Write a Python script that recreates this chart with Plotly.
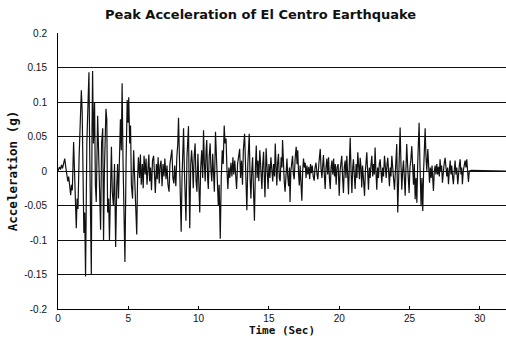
import plotly.graph_objects as go

# ---- data (time in s, acceleration in g) ----
time_a = [0.00, 0.10, 0.18, 0.25, 0.32, 0.40, 0.48, 0.55, 0.62, 0.70,
          0.76, 0.82, 0.90, 0.96, 1.02, 1.11, 1.18, 1.24, 1.30, 1.36,
          1.42, 1.50, 1.58, 1.66, 1.72, 1.78, 1.84, 1.90, 1.96]
accel_a = [0.000, 0.006, 0.002, 0.009, 0.004, 0.012, 0.018, 0.006, -0.006, -0.015,
           -0.008, -0.022, -0.035, -0.020, -0.028, 0.042, -0.020, -0.045, -0.083, -0.040,
           -0.055, 0.020, 0.070, 0.117, 0.085, -0.030, -0.090, -0.060, -0.153]

time_b = [2.05, 2.12, 2.20, 2.26, 2.31, 2.37, 2.42, 2.46, 2.52, 2.60,
          2.66, 2.72, 2.82, 2.88, 2.95, 3.03, 3.10, 3.18, 3.24, 3.30,
          3.41, 3.47, 3.53, 3.60, 3.66, 3.74, 3.80, 3.86, 3.94, 4.02,
          4.10, 4.18, 4.24, 4.30, 4.38, 4.44, 4.50, 4.56, 4.62, 4.68,
          4.76, 4.84, 4.92, 4.98, 5.03, 5.10, 5.16, 5.22, 5.30, 5.38,
          5.45, 5.52, 5.60, 5.66]
accel_b = [0.040, 0.090, 0.143, 0.020, -0.060, -0.150, 0.060, 0.145, 0.040, 0.100,
           -0.020, -0.045, 0.080, 0.030, -0.056, -0.085, 0.040, 0.062, -0.100, 0.000,
           0.090, 0.075, -0.060, -0.040, -0.100, 0.020, 0.035, -0.030, -0.050, 0.010,
           -0.110, -0.020, 0.010, -0.040, 0.060, 0.075, 0.030, 0.127, 0.020, -0.060,
           -0.132, 0.010, 0.103, 0.070, 0.107, 0.040, 0.066, -0.020, -0.040, 0.030,
           -0.010, -0.050, -0.092, -0.010]

time_c = [5.72, 5.80, 5.86, 5.92, 6.00, 6.06, 6.12, 6.20, 6.26, 6.33,
          6.40, 6.46, 6.52, 6.58, 6.65, 6.72, 6.80, 6.86, 6.92, 7.00,
          7.06, 7.12, 7.20, 7.26, 7.33, 7.40, 7.47, 7.54, 7.60, 7.68,
          7.75, 7.82, 7.90, 7.96, 8.03, 8.10, 8.17, 8.24, 8.30, 8.38,
          8.45, 8.52, 8.57, 8.64, 8.70, 8.76, 8.82, 8.88, 8.93, 8.99,
          9.05, 9.10, 9.17, 9.22, 9.28, 9.33, 9.37, 9.44, 9.50, 9.56,
          9.62, 9.68, 9.75, 9.82, 9.88, 9.95, 10.02, 10.08]
accel_c = [0.020, -0.010, 0.024, -0.020, 0.010, -0.025, 0.022, -0.005, 0.018, -0.020,
           0.010, 0.024, -0.015, 0.005, -0.028, 0.015, 0.022, -0.010, -0.032, 0.010,
           -0.012, 0.020, -0.018, 0.008, 0.015, -0.022, 0.010, -0.008, 0.018, -0.012,
           0.008, -0.020, -0.030, 0.010, 0.020, 0.031, -0.010, -0.018, 0.008, -0.022,
           0.020, 0.040, 0.077, 0.010, -0.040, -0.088, -0.010, 0.040, 0.062, 0.000,
           -0.050, -0.072, 0.020, 0.040, 0.065, -0.030, -0.083, 0.010, 0.030, 0.010,
           -0.025, 0.020, 0.040, -0.015, -0.030, 0.025, -0.020, -0.060]

time_d = [10.15, 10.22, 10.29, 10.35, 10.41, 10.47, 10.53, 10.58, 10.64, 10.69,
          10.75, 10.82, 10.88, 10.94, 11.00, 11.06, 11.12, 11.20, 11.26, 11.32,
          11.40, 11.46, 11.54, 11.61, 11.68, 11.75, 11.82, 11.88, 11.95, 12.02,
          12.08, 12.15, 12.22, 12.30, 12.37, 12.44, 12.50, 12.57, 12.63, 12.70,
          12.77, 12.85, 12.92, 12.98, 13.05, 13.12, 13.18, 13.27, 13.33, 13.38,
          13.43, 13.50, 13.55, 13.60, 13.66, 13.72, 13.78, 13.84, 13.90, 13.97,
          14.04, 14.10, 14.16, 14.22, 14.28, 14.35, 14.42, 14.50, 14.56, 14.62,
          14.68, 14.72, 14.80, 14.86, 14.94, 15.00]
accel_d = [0.005, 0.030, -0.010, 0.059, 0.010, -0.015, 0.030, 0.045, -0.010, -0.026,
           0.020, 0.040, 0.000, -0.015, 0.025, -0.005, -0.030, 0.057, 0.020, -0.010,
           -0.050, -0.020, -0.098, -0.010, 0.030, 0.010, 0.066, 0.040, 0.047, 0.000,
           -0.026, 0.005, -0.010, 0.012, -0.008, 0.020, -0.005, 0.015, -0.012, -0.026,
           0.010, 0.020, 0.032, -0.010, 0.015, -0.020, 0.030, 0.054, 0.000, -0.030,
           -0.057, 0.010, 0.030, 0.054, -0.010, -0.040, 0.000, 0.020, -0.025, -0.072,
           0.005, 0.037, -0.010, 0.015, -0.015, 0.030, 0.005, -0.026, 0.010, 0.028,
           -0.015, -0.038, 0.033, 0.000, -0.026, 0.010]

time_e = [15.07, 15.14, 15.20, 15.27, 15.33, 15.40, 15.45, 15.51, 15.56, 15.62,
          15.68, 15.74, 15.80, 15.87, 15.93, 15.97, 16.03, 16.09, 16.15, 16.22,
          16.28, 16.34, 16.40, 16.46, 16.50, 16.56, 16.62, 16.68, 16.74, 16.80,
          16.87, 16.94, 17.00, 17.05, 17.11, 17.16, 17.22, 17.28, 17.34, 17.40,
          17.46, 17.52, 17.58, 17.64, 17.70, 17.77, 17.84, 17.90, 17.96, 18.02,
          18.08, 18.15, 18.22, 18.28, 18.35, 18.42, 18.48, 18.55, 18.60, 18.65,
          18.71, 18.77, 18.83, 18.88, 18.94, 19.00, 19.06, 19.12, 19.18, 19.24,
          19.30, 19.36, 19.42, 19.48, 19.54, 19.60, 19.66, 19.72, 19.78, 19.84,
          19.92]
accel_e = [-0.010, 0.020, 0.005, -0.015, 0.010, -0.008, 0.040, 0.005, -0.021, 0.012,
           0.025, -0.010, -0.015, 0.020, 0.005, 0.045, 0.000, -0.015, -0.030, 0.010,
           0.018, -0.008, -0.022, 0.005, -0.045, 0.000, 0.015, 0.022, -0.005, -0.012,
           0.020, 0.035, 0.010, 0.030, -0.005, -0.021, 0.008, -0.010, -0.043, 0.000,
           0.018, 0.005, 0.012, -0.010, 0.008, -0.005, 0.006, -0.012, 0.010, -0.003,
           0.008, -0.008, -0.014, 0.005, 0.012, -0.005, -0.012, 0.010, 0.020, 0.032,
           0.002, -0.010, 0.010, 0.023, -0.005, -0.026, 0.005, 0.018, -0.005, 0.020,
           -0.010, -0.026, 0.005, 0.015, -0.005, 0.018, -0.008, 0.010, -0.020, 0.005,
           0.010]

time_f = [20.00, 20.06, 20.12, 20.18, 20.24, 20.30, 20.36, 20.42, 20.48, 20.54,
          20.60, 20.66, 20.72, 20.78, 20.84, 20.90, 20.96, 21.01, 21.07, 21.13,
          21.20, 21.26, 21.32, 21.38, 21.44, 21.49, 21.55, 21.60, 21.66, 21.72,
          21.80, 21.86, 21.92, 21.96, 22.02, 22.08, 22.14, 22.20, 22.26, 22.32,
          22.38, 22.44, 22.50, 22.55, 22.61, 22.67, 22.73, 22.79, 22.85, 22.91,
          22.97, 23.03, 23.09, 23.15, 23.22, 23.28, 23.34, 23.40, 23.45, 23.51,
          23.57, 23.63, 23.68, 23.74, 23.80, 23.86, 23.93, 23.99, 24.04, 24.09]
accel_f = [-0.036, 0.000, 0.012, 0.022, -0.010, -0.032, 0.005, 0.015, -0.010, 0.022,
           -0.005, -0.034, 0.010, 0.048, 0.000, -0.032, 0.005, 0.017, -0.005, -0.026,
           0.010, -0.010, 0.027, 0.000, -0.012, 0.019, 0.005, -0.024, 0.008, -0.010,
           -0.036, 0.000, 0.015, 0.027, 0.000, -0.027, 0.005, -0.010, 0.010, 0.022,
           -0.008, 0.010, -0.005, 0.034, 0.000, -0.027, 0.005, -0.010, 0.010, 0.017,
           0.000, -0.017, 0.005, -0.008, 0.022, 0.000, -0.010, 0.010, 0.019, 0.000,
           -0.022, 0.005, -0.008, 0.022, 0.000, -0.010, -0.027, 0.005, 0.020, 0.039]

time_g = [24.16, 24.22, 24.27, 24.33, 24.39, 24.45, 24.51, 24.57, 24.63, 24.69,
          24.74, 24.80, 24.86, 24.91, 24.97, 25.03, 25.09, 25.16, 25.22, 25.28,
          25.34, 25.40, 25.46, 25.52, 25.58, 25.63, 25.68, 25.74, 25.78, 25.82,
          25.88, 25.94, 26.00, 26.05, 26.11, 26.17, 26.23, 26.30, 26.36, 26.42,
          26.48, 26.54, 26.60, 26.66, 26.70, 26.76, 26.82, 26.88, 26.94, 27.00,
          27.06, 27.12, 27.17, 27.23, 27.28, 27.34, 27.40, 27.46, 27.53, 27.59,
          27.65, 27.71, 27.77, 27.83, 27.89, 27.95, 28.00, 28.06, 28.12, 28.18,
          28.24, 28.30, 28.36, 28.43, 28.49, 28.55, 28.60, 28.66, 28.71, 28.76,
          28.82, 28.88, 28.95, 29.01, 29.07, 29.13, 29.19, 29.25, 29.40, 31.90]
accel_g = [-0.060, 0.000, 0.030, 0.063, 0.010, -0.027, 0.000, 0.015, -0.010, -0.036,
           0.000, 0.039, 0.010, -0.010, -0.032, 0.005, 0.015, 0.036, 0.005, -0.020,
           0.010, -0.041, -0.010, -0.046, 0.010, 0.040, 0.070, 0.010, -0.030, -0.051,
           -0.010, -0.058, 0.000, 0.030, 0.062, 0.020, 0.000, 0.032, 0.005, -0.017,
           0.005, -0.010, 0.008, -0.015, -0.029, 0.000, 0.008, -0.005, 0.010, -0.005,
           0.006, -0.008, 0.017, 0.000, 0.008, -0.017, 0.000, 0.010, 0.019, 0.000,
           -0.008, 0.005, -0.019, 0.000, 0.015, -0.005, 0.008, -0.008, -0.019, 0.000,
           0.015, -0.005, 0.005, -0.019, 0.000, 0.010, 0.017, -0.005, 0.005, -0.019,
           0.000, 0.008, 0.015, 0.005, 0.017, 0.000, -0.016, 0.000, 0.001, 0.000]

time_s = time_a + time_b + time_c + time_d + time_e + time_f + time_g
accel = accel_a + accel_b + accel_c + accel_d + accel_e + accel_f + accel_g
assert len(time_s) == len(accel), (len(time_s), len(accel))

x_ticks = [0, 5, 10, 15, 20, 25, 30]
y_ticks = [0.2, 0.15, 0.1, 0.05, 0, -0.05, -0.1, -0.15, -0.2]
y_tick_labels = ["0.2", "0.15", "0.1", "0.05", "0", "-0.05", "-0.1", "-0.15", "-0.2"]

fig = go.Figure()
fig.add_trace(go.Scatter(x=time_s, y=accel, mode="lines",
                         line=dict(color="#111111", width=1.2), showlegend=False,
                         hoverinfo="skip"))

fig.update_layout(
    width=506, height=354,
    margin=dict(l=58, r=0, t=33, b=45),
    paper_bgcolor="white", plot_bgcolor="white",
    title=dict(text="Peak Acceleration of El Centro Earthquake",
               font=dict(family="DejaVu Sans", size=13, color="#111111", weight="bold"),
               x=0.515, xref="container", xanchor="center",
               y=1 - 14 / 354, yref="container", yanchor="middle"),
    xaxis=dict(range=[0, 31.86], tickvals=x_ticks, showgrid=False, zeroline=False,
               showline=True, linecolor="black", linewidth=1,
               ticks="inside", ticklen=3, tickcolor="black",
               tickfont=dict(family="Liberation Sans", size=10, color="#111111"),
               title=dict(text="Time (Sec)", standoff=2,
                          font=dict(family="DejaVu Sans Mono", size=11, color="#111111",
                                    weight="bold"))),
    yaxis=dict(range=[-0.2, 0.2], tickvals=y_ticks, ticktext=y_tick_labels,
               showgrid=True, gridcolor="#111111", gridwidth=1, zeroline=False,
               showline=True, linecolor="black", linewidth=1, ticks="",
               ticklabelstandoff=8,
               tickfont=dict(family="Liberation Sans", size=10, color="#111111"),
               title=dict(text="Acceleration (g)", standoff=3,
                          font=dict(family="DejaVu Sans Mono", size=12.5, color="#111111",
                                    weight="bold"))),
)

fig.write_html("out.html")
